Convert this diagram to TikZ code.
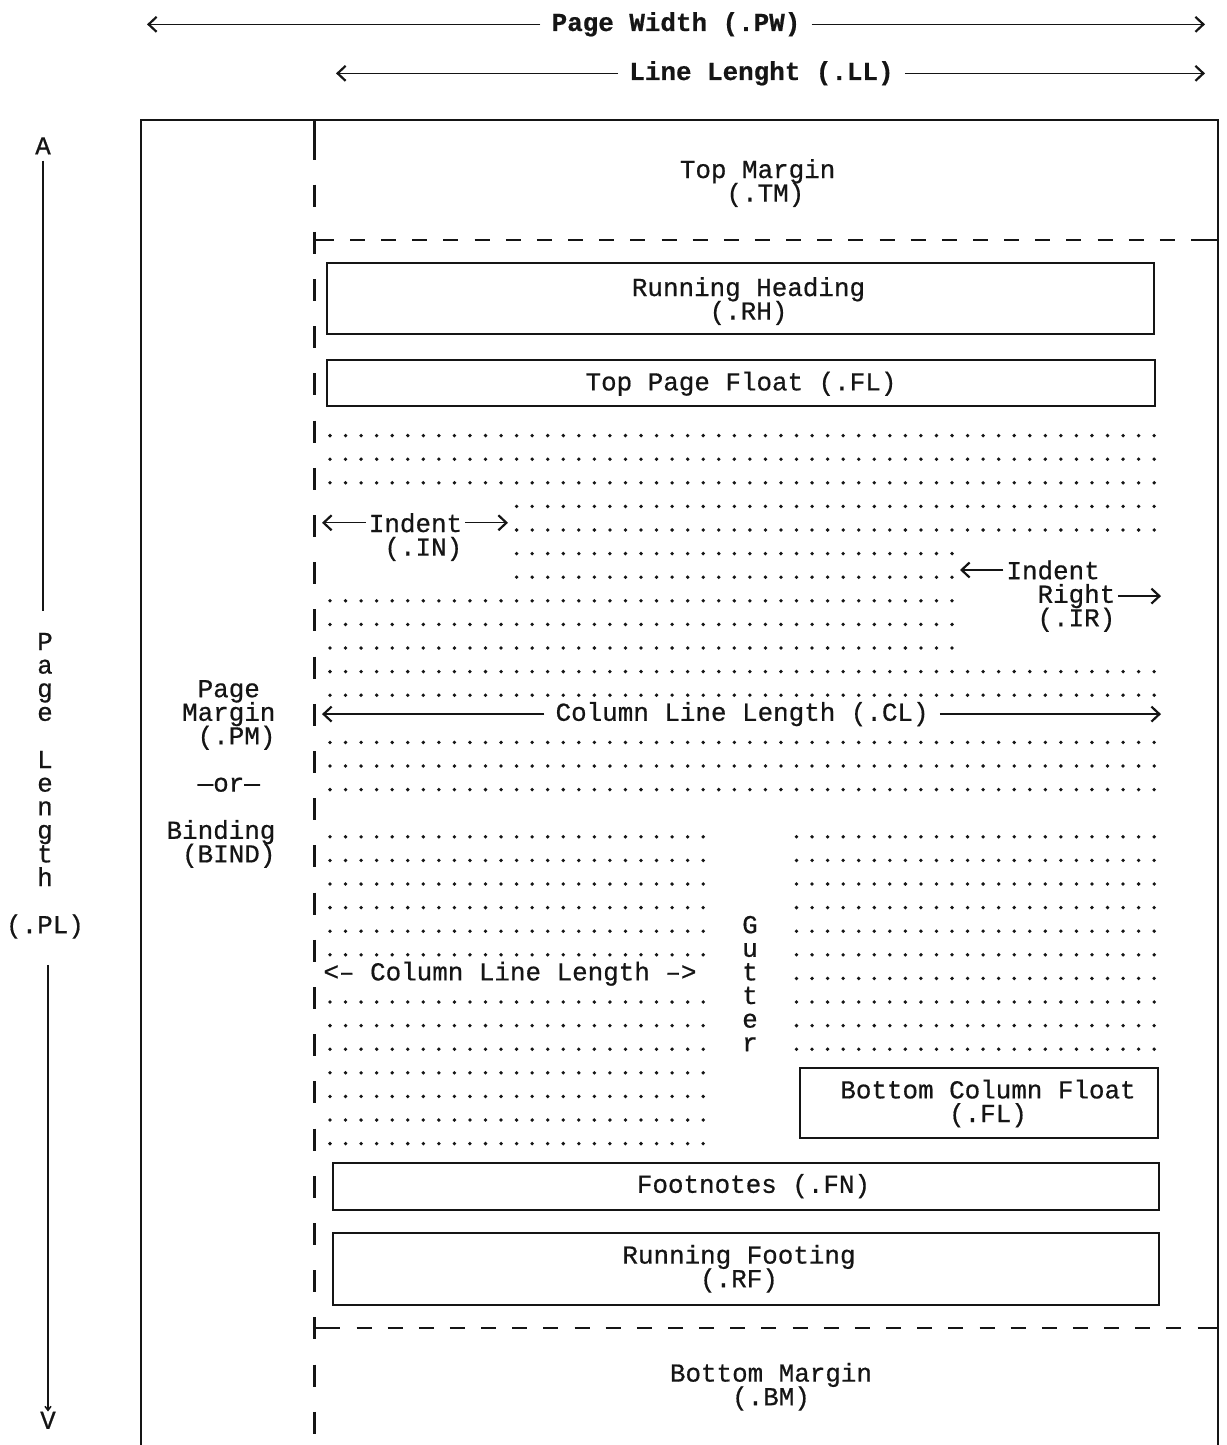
\documentclass[tikz,border=0pt]{standalone}
\usepackage{fontspec}
\usepackage{tikz}
\usetikzlibrary{positioning, arrows.meta}
\newfontfamily\typefont[FakeBold=0.6]{Liberation Mono}
\definecolor{inkblack}{HTML}{151515}

% one typed row = 23.6pt, one character cell = 15.55pt
\newcommand{\typerfont}{\typefont\fontsize{25.9}{23.6}\selectfont\lineskiplimit=-40pt\relax}
\newcommand{\typerbold}{\typerfont\bfseries}
\newcommand{\rowbase}[1]{201.6+23.6*(#1)}
\newcommand{\colx}[1]{330+15.55*(#1)}
\newcommand{\dotrow}[3]{%
  \foreach \n in {#2,...,#3}
    \fill[inkblack] ({\colx{\n}},{\rowbase{#1}-2}) circle (1.9pt);}

\begin{document}
\begin{tikzpicture}[x=1pt, y=-1pt, line cap=butt, draw=inkblack,
    txt/.style={font=\typerfont, text=inkblack, inner sep=0pt, anchor=base},
    boldtxt/.style={txt, font=\typerbold},
    armlabel/.style={inner xsep=11pt},
    chev/.style={-{Straight Barb[length=8pt,width=15pt,line width=2.2pt]}, line width=1.4pt},
    pagebox/.style={draw=inkblack, line width=2pt, inner sep=0pt},
    dashrule/.style={line width=2pt, dash pattern=on 15pt off 16.15pt},
    bar/.style={line width=3pt}]
\useasboundingbox (0,0) rectangle (1226,1445);

% widths across the top
\node[boldtxt, armlabel] (pw) at (676,31) {Page Width (.PW)};
\coordinate (pwL) at (147,23);
\coordinate (pwR) at (1205,23);
\draw[chev] (pw.west) -- (pw.west -| pwL);
\draw[chev] (pw.east) -- (pw.east -| pwR);

\node[boldtxt, armlabel] (ll) at (761.5,80) {Line Lenght (.LL)};
\coordinate (llL) at (336,72);
\coordinate (llR) at (1205,72);
\draw[chev] (ll.west) -- (ll.west -| llL);
\draw[chev] (ll.east) -- (ll.east -| llR);

% page length down the left (multi-line nodes sit on their last baseline)
\node[txt] (up) at (43,154.4) {A};
\node[txt, align=center] (pl) at (45,933.2) {P\\a\\g\\e\\[23.6pt]L\\e\\n\\g\\t\\h\\[23.6pt](.PL)};
\node[txt] (down) at (48,1428.8) {V};
\draw[line width=1.5pt, shorten <=6pt, shorten >=22pt] (up.south) -- (up.south |- pl.north);
\draw[line width=1.5pt, shorten <=26pt, -{Straight Barb[length=4pt,width=6pt]}] (pl.south -| down) -- (down.north);

% the sheet
\draw[line width=2.5pt] (141,1445) -- (141,120) -- (1218,120) -- (1218,1445);

\node[txt, anchor=base east, align=right] (pm) at (275.6,862.4)
  {Page\hphantom{x}\\Margin\\(.PM)\\[23.6pt]—or—\hphantom{x}\\[23.6pt]Binding\\(BIND)};

% margin rule, one bar every other row
\draw[bar] (314.5,120) -- (314.5,160.4);
\foreach \j in {0,2,...,52}
  \draw[bar] (314.5,{\rowbase{\j}-17}) -- (314.5,{\rowbase{\j}+5});

\coordinate (tmL) at (314.5,240);
\coordinate (tmR) at (1218,240);
\draw[line width=2pt] (tmL) -- ++(6,0);
\draw[dashrule, dash phase=26.8pt] (tmL) -- (tmR);
\draw[line width=2pt] (tmR) -- ++(-22,0);
\coordinate (bmL) at (314.5,1328);
\coordinate (bmR) at (1218,1328);
\draw[line width=2pt] (bmL) -- ++(13,0);
\draw[dashrule, dash phase=20.3pt] (bmL) -- (bmR);
\draw[line width=2pt] (bmR) -- ++(-19,0);

\node[txt, align=center] (tm) at (757.6,201.6) {Top Margin\\\hphantom{x}(.TM)};
\node[txt, align=center] (bm) at (771,1405.2) {Bottom Margin\\(.BM)};

% floats, heading and footing
\node[pagebox, minimum width=827pt, minimum height=71pt] (rh) at (740.5,298.5) {};
\node[txt, align=center] (rhtext) at (748.5,319.6) {Running Heading\\(.RH)};
\node[pagebox, minimum width=828pt, minimum height=46pt] (tpf) at (741,383) {};
\node[txt] (tpftext) at (741,390.4) {Top Page Float (.FL)};
\node[pagebox, minimum width=358pt, minimum height=70pt] (bcf) at (979,1103) {};
\node[txt, align=center] (bcftext) at (988,1122) {Bottom Column Float\\(.FL)};
\node[pagebox, minimum width=826pt, minimum height=47pt] (fn) at (746,1186.5) {};
\node[txt] (fntext) at (753.5,1192.8) {Footnotes (.FN)};
\node[pagebox, minimum width=826pt, minimum height=72pt] (rf) at (746,1269) {};
\node[txt, align=center] (rftext) at (739,1287.2) {Running Footing\\(.RF)};

% text lines
\foreach \r/\a/\b in {10/0/53, 11/0/53, 12/0/53, 13/12/53, 14/12/53, 15/12/40, 16/12/40,
    17/0/40, 18/0/40, 19/0/40, 20/0/53, 21/0/53, 23/0/53, 24/0/53, 25/0/53}
  {\dotrow{\r}{\a}{\b}}
\foreach \r in {27,28,29,30,31,32,34,35,36}
  {\dotrow{\r}{0}{24} \dotrow{\r}{30}{53}}
\dotrow{33}{30}{53}
\foreach \r in {37,38,39,40}
  {\dotrow{\r}{0}{24}}

% indents
\node[txt, inner xsep=3pt] (indent) at (415.5,532) {Indent};
\coordinate (inL) at (322,523);
\coordinate (inR) at (508,523);
\draw[chev] (indent.west) -- (indent.west -| inL);
\draw[chev] (indent.east) -- (indent.east -| inR);
\node[txt] (incode) at (423.3,555.6) {(.IN)};

\node[txt, inner xsep=3pt] (indentr) at (1053.1,579.2) {Indent};
\coordinate (irL) at (960,570);
\draw[chev] (indentr.west) -- (indentr.west -| irL);
\node[txt, inner xsep=3pt] (rightw) at (1076.4,602.8) {Right};
\coordinate (irR) at (1161,594);
\draw[chev] (rightw.east) -- (rightw.east -| irR);
\node[txt] (ircode) at (1076.4,626.4) {(.IR)};

% column line length
\node[txt, armlabel] (cl) at (742.1,720.8) {Column Line Length (.CL)};
\coordinate (clL) at (322,712);
\coordinate (clR) at (1161,712);
\draw[chev] (cl.west) -- (cl.west -| clL);
\draw[chev] (cl.east) -- (cl.east -| clR);

\node[txt] (clcol) at (510,980.4) {<– Column Line Length –>};
\node[txt, align=center] (gutter) at (750,1051.2) {G\\u\\t\\t\\e\\r};
\end{tikzpicture}
\end{document}
